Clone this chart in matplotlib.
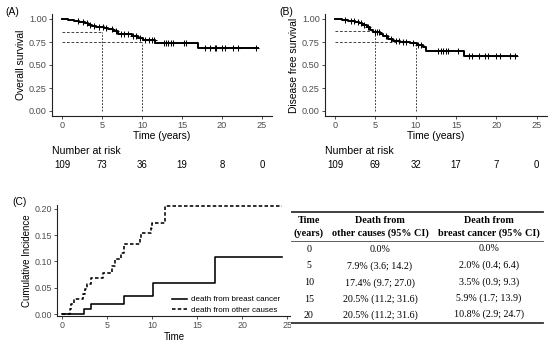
import numpy as np
import matplotlib
matplotlib.use("Agg")
import matplotlib.pyplot as plt
from matplotlib.transforms import blended_transform_factory

# ---------------- data ----------------
# Panel A: overall survival (Kaplan-Meier steps)
os_times = [0, 0.8, 1.5, 2.1, 2.5, 2.9, 3.3, 3.7, 4.3, 5.2, 5.8, 6.4, 7.0, 8.7, 9.5, 10.1, 11.6, 17.0]
os_surv = [1.0, 0.991, 0.981, 0.972, 0.962, 0.952, 0.934, 0.923, 0.913, 0.903, 0.886, 0.865, 0.835,
           0.817, 0.796, 0.772, 0.742, 0.688]
os_end = 24.5
os_censor = [2.0, 2.6, 3.1, 3.5, 4.0, 4.6, 5.1, 5.5, 6.2, 6.8, 7.4, 7.8, 8.3, 8.9, 9.2, 9.8,
             10.4, 10.9, 11.2, 11.5, 12.7, 13.0, 13.3, 13.6, 13.9, 15.2, 15.5,
             17.9, 18.5, 19.1, 19.3, 19.95, 20.4, 21.4, 22.0, 24.3]
os_ref_times = [5, 10]
os_ref_vals = [0.862, 0.748]
os_risk = [109, 73, 36, 19, 8, 0]

# Panel B: disease free survival
dfs_times = [0, 0.8, 1.6, 2.5, 3.0, 3.3, 3.9, 4.3, 4.7, 5.6, 6.0, 6.6, 7.2, 8.0, 9.3, 10.1, 10.9, 11.3, 16.0]
dfs_surv = [1.0, 0.99, 0.977, 0.965, 0.952, 0.94, 0.915, 0.88, 0.855, 0.835, 0.818, 0.785, 0.762,
            0.755, 0.736, 0.72, 0.70, 0.648, 0.594]
dfs_end = 22.6
dfs_censor = [1.2, 2.0, 2.3, 2.8, 3.2, 3.6, 4.1, 4.9, 5.2, 5.4, 6.3, 6.9, 7.5, 7.9, 8.4, 8.8, 9.6, 10.3,
              10.6, 12.8, 13.1, 13.4, 13.7, 14.0, 15.3,
              16.6, 17.0, 17.9, 18.6, 19.0, 19.9, 20.4, 21.7, 22.3]
dfs_ref_times = [5, 10]
dfs_ref_vals = [0.865, 0.75]
dfs_risk = [109, 69, 32, 17, 7, 0]

risk_times = [0, 5, 10, 15, 20, 25]

# Panel C: cumulative incidence
oc_times = [0, 0.8, 1.0, 1.3, 2.3, 2.5, 2.7, 3.2, 4.5, 5.5, 5.8, 6.5, 6.8, 8.6, 8.8, 9.9, 10.0, 11.4]
oc_vals = [0, 0.010, 0.019, 0.029, 0.038, 0.048, 0.058, 0.068, 0.079, 0.091, 0.104, 0.116, 0.134,
           0.145, 0.154, 0.164, 0.174, 0.205]
bc_times = [0, 2.4, 3.2, 6.8, 10.1, 17.0]
bc_vals = [0, 0.010, 0.020, 0.035, 0.059, 0.108]
ci_end = 24.4

# Table
tab_time = ["0", "5", "10", "15", "20"]
tab_other = ["0.0%", "7.9% (3.6; 14.2)", "17.4% (9.7; 27.0)", "20.5% (11.2; 31.6)", "20.5% (11.2; 31.6)"]
tab_breast = ["0.0%", "2.0% (0.4; 6.4)", "3.5% (0.9; 9.3)", "5.9% (1.7; 13.9)", "10.8% (2.9; 24.7)"]

# ---------------- figure ----------------
W, H = 550, 346
plt.rcParams['font.family'] = ['Liberation Sans', 'DejaVu Sans']
fig = plt.figure(figsize=(W / 100, H / 100), dpi=100)
fig.patch.set_facecolor('white')

def add_ax(left, top, right, bottom, **kw):
    return fig.add_axes([left / W, 1 - bottom / H, (right - left) / W, (bottom - top) / H], **kw)

def ftext(x, y, s, **kw):
    fig.text(x / W, 1 - y / H, s, **kw)

TICKC = '#4D4D4D'

def style(ax, fs=6.6):
    for s in ['top', 'right']:
        ax.spines[s].set_visible(False)
    for s in ['left', 'bottom']:
        ax.spines[s].set_linewidth(0.8)
        ax.spines[s].set_color('#222222')
    ax.tick_params(axis='both', length=2.2, width=0.6, color='#333333', labelsize=fs,
                   labelcolor=TICKC, pad=1.5)
    ax.set_facecolor('white')

def step_eval(times, vals, t):
    idx = np.searchsorted(np.asarray(times), t, side='right') - 1
    return np.asarray(vals)[idx]

def km_panel(ax, times, surv, end, censor, ref_t, ref_v, ylabel):
    x = list(times) + [end]
    y = list(surv) + [surv[-1]]
    ax.step(x, y, where='post', color='black', lw=1.4, zorder=3)
    cy = step_eval(times, surv, censor)
    ax.plot(censor, cy, ls='none', marker='+', ms=3.8, mew=0.75, color='black', zorder=4)
    for t, v in zip(ref_t, ref_v):
        ax.plot([0, t], [v, v], color='#333333', lw=0.65, dashes=(3, 2), zorder=2)
        ax.plot([t, t], [0, v], color='#333333', lw=0.65, dashes=(2, 1.6), zorder=2)
    ax.set_xlim(-1.25, 26.25)
    ax.set_ylim(-0.05, 1.05)
    ax.set_xticks([0, 5, 10, 15, 20, 25])
    ax.set_yticks([0, 0.25, 0.5, 0.75, 1.0])
    ax.set_yticklabels(['0.00', '0.25', '0.50', '0.75', '1.00'])
    style(ax)
    ax.set_ylabel(ylabel, fontsize=7.4, labelpad=2.5)
    ax.set_xlabel('Time (years)', fontsize=7.4, labelpad=1)

# Panel A
axA = add_ax(52, 14.4, 272, 115.6)
km_panel(axA, os_times, os_surv, os_end, os_censor, os_ref_times, os_ref_vals, 'Overall survival')
# Panel B
axB = add_ax(325, 14.4, 546.8, 115.6)
km_panel(axB, dfs_times, dfs_surv, dfs_end, dfs_censor, dfs_ref_times, dfs_ref_vals, 'Disease free survival')

ftext(5, 12, '(A)', fontsize=7.4, va='center', ha='left')
ftext(279, 12, '(B)', fontsize=7.4, va='center', ha='left')

for ax, risk, x0 in [(axA, os_risk, 52), (axB, dfs_risk, 325)]:
    ftext(x0, 151, 'Number at risk', fontsize=7.6, va='center', ha='left')
    tr = blended_transform_factory(ax.transData, fig.transFigure)
    for t, n in zip(risk_times, risk):
        ax.text(t, 1 - 165 / H, str(n), transform=tr, fontsize=6.9, ha='center', va='center')

# Panel C
axC = add_ax(57, 205, 292, 316)
axC.step(list(bc_times) + [ci_end], list(bc_vals) + [bc_vals[-1]], where='post', color='black',
         lw=1.15, label='death from breast cancer', zorder=3)
axC.step(list(oc_times) + [ci_end], list(oc_vals) + [oc_vals[-1]], where='post', color='black',
         lw=1.15, dashes=(2.2, 1.4), label='death from other causes', zorder=3)
axC.set_xlim(-0.6, 25.55)
axC.set_ylim(-0.0038, 0.2076)
axC.set_xticks([0, 5, 10, 15, 20, 25])
axC.set_yticks([0, 0.05, 0.10, 0.15, 0.20])
axC.set_yticklabels(['0.00', '0.05', '0.10', '0.15', '0.20'])
style(axC, fs=6.4)
axC.set_ylabel('Cumulative Incidence', fontsize=7, labelpad=2)
axC.set_xlabel('Time', fontsize=7, labelpad=1)
leg = axC.legend(loc='lower left', bbox_to_anchor=((172 - 57) / 235, 0.02), frameon=False,
                 fontsize=5.8, handlelength=1.8, handletextpad=0.6, labelspacing=0.35,
                 borderaxespad=0, borderpad=0)
ftext(12, 202, '(C)', fontsize=7.4, va='center', ha='left')

# Table (overlay with white background)
axT = add_ax(289.5, 196, 550, 314)
axT.set_zorder(10)
axT.set_facecolor('white')
axT.set_xlim(289.5, 550)
axT.set_ylim(314, 196)
axT.axis('off')
axT.add_patch(plt.Rectangle((289.5, 196), 261, 118, facecolor='white', edgecolor='none', zorder=0))
axT2 = add_ax(291, 196, 550, 346)
axT2.set_zorder(11)
axT2.set_xlim(291, 550)
axT2.set_ylim(346, 196)
axT2.axis('off')
axT2.add_patch(plt.Rectangle((291, 196), 259, 150, facecolor='white', edgecolor='none', zorder=0))

serif = ['Liberation Serif', 'DejaVu Serif']
col_x = [309, 380, 489]
axT2.plot([291, 543], [211.7, 211.7], color='#333333', lw=1.3)
axT2.plot([291, 543], [240.7, 240.7], color='#444444', lw=0.6)
axT2.plot([291, 543], [323, 323], color='#333333', lw=1.3)
hdr1 = ['Time', 'Death from', 'Death from']
hdr2 = ['(years)', 'other causes (95% CI)', 'breast cancer (95% CI)']
for x, a, b in zip(col_x, hdr1, hdr2):
    axT2.text(x, 220.5, a, family=serif, fontsize=7.3, fontweight='bold', ha='center', va='center')
    axT2.text(x, 233.3, b, family=serif, fontsize=7.3, fontweight='bold', ha='center', va='center')
row_y = [249.3, 265.7, 282.7, 299, 315]
for y, t, o, b in zip(row_y, tab_time, tab_other, tab_breast):
    axT2.text(col_x[0], y, t, family=serif, fontsize=7.2, ha='center', va='center')
    axT2.text(col_x[1], y, o, family=serif, fontsize=7.2, ha='center', va='center')
    axT2.text(col_x[2], y - 0.8, b, family=serif, fontsize=7.2, ha='center', va='center')

fig.savefig('out.png', dpi=100, facecolor='white')
